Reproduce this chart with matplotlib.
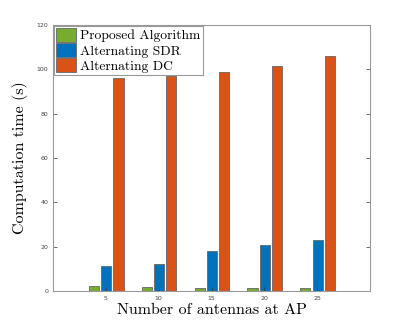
import numpy as np
import matplotlib
matplotlib.use('Agg')
import matplotlib.pyplot as plt

antennas = [5, 10, 15, 20, 25]
proposed = [2.3, 1.7, 1.4, 1.2, 1.2]
sdr = [11.1, 12.2, 18.0, 20.7, 22.8]
dc = [95.9, 96.8, 98.6, 101.5, 106.0]
names = ['Proposed Algorithm', 'Alternating SDR', 'Alternating DC']
colors = ['#77AC30', '#0072BD', '#D95319']

fig = plt.figure(figsize=(4.09, 3.27), dpi=100)
ax = fig.add_axes([53/409, 1-291/327, (370-53)/409, (291-25)/327])

x = np.array(antennas, dtype=float)
w = 0.95
off = [-1.12, 0.05, 1.2]
for vals, c, o, nm in zip([proposed, sdr, dc], colors, off, names):
    ax.bar(x + o, vals, width=w, color=c, edgecolor='#666666', linewidth=0.6, label=nm)

ax.set_xlim(0, 30)
ax.set_ylim(0, 120)
ax.set_xticks(antennas)
ax.set_yticks(np.arange(0, 121, 20))
ax.tick_params(direction='in', labelsize=4.5, colors='#333333', length=3, width=0.5,
               top=False, right=True, labelcolor='#444444')
for s in ax.spines.values():
    s.set_color('#999999')
    s.set_linewidth(0.8)

ax.set_xlabel('Number of antennas at AP', fontsize=11.5, fontname='cmr10', labelpad=2)
ax.set_ylabel('Computation time (s)', fontsize=11.5, fontname='cmr10', labelpad=6)

leg = ax.legend(loc='upper left', prop={'family': 'cmr10', 'size': 9.8},
                borderaxespad=0.05, handlelength=1.5, handleheight=1.2,
                labelspacing=0.05, handletextpad=0.3, borderpad=0.15,
                fancybox=False, framealpha=1)
leg.get_frame().set_edgecolor('#999999')
leg.get_frame().set_linewidth(0.8)

fig.savefig('out.png', dpi=100)
